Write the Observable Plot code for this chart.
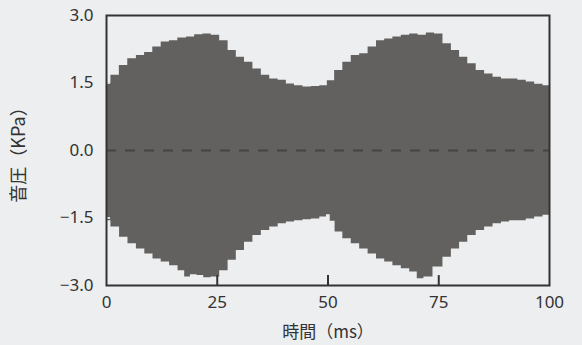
<!DOCTYPE html>
<html>
<head>
<meta charset="utf-8">
<script src="https://cdn.jsdelivr.net/npm/d3@7"></script>
<script src="https://cdn.jsdelivr.net/npm/@observablehq/plot@0.6"></script>
<style>
  html, body { margin: 0; padding: 0; background: #eceeef; }
  #chart { width: 582px; height: 345px; }
</style>
</head>
<body>
<div id="chart"></div>
<script>
// Upper envelope of the sound pressure waveform (ms, KPa)
const upperTime = [0, 2.0, 3.8, 5.8, 7.7, 9.5, 11.4, 13.3, 15.1, 17.1, 19.0, 20.8, 22.7, 24.6, 26.5, 28.4, 30.2, 32.1, 34.0, 35.9, 37.8, 39.7, 41.5, 43.4, 45.3, 47.2, 49.1, 50.6, 52.4, 54.3, 56.2, 58.1, 60.0, 61.9, 63.7, 65.6, 67.5, 69.4, 71.3, 73.1, 75.0, 76.9, 78.8, 80.6, 82.5, 84.4, 86.3, 88.2, 90.1, 91.9, 93.8, 95.7, 97.6, 99.5, 100];
const upperVals = [1.49, 1.67, 1.89, 2.04, 2.11, 2.18, 2.30, 2.41, 2.44, 2.50, 2.52, 2.57, 2.59, 2.56, 2.44, 2.22, 2.07, 1.96, 1.81, 1.67, 1.59, 1.56, 1.48, 1.44, 1.41, 1.42, 1.44, 1.55, 1.78, 1.96, 2.11, 2.15, 2.30, 2.44, 2.48, 2.52, 2.56, 2.59, 2.56, 2.61, 2.59, 2.37, 2.22, 2.07, 1.93, 1.78, 1.70, 1.63, 1.59, 1.59, 1.56, 1.52, 1.47, 1.44, 1.44];
// Lower envelope
const lowerTime = [0, 2.0, 3.9, 5.8, 7.7, 9.6, 11.4, 13.3, 15.2, 17.1, 18.2, 19.7, 21.2, 22.7, 24.6, 26.5, 28.4, 30.2, 32.1, 34.0, 35.9, 37.8, 39.7, 41.5, 43.4, 45.3, 47.2, 49.1, 50.2, 50.8, 52.4, 54.3, 56.2, 58.1, 60.0, 61.9, 63.7, 65.6, 67.5, 69.4, 70.9, 72.4, 75.0, 76.9, 78.8, 80.6, 82.5, 84.4, 86.3, 88.2, 90.1, 91.9, 93.8, 95.7, 97.6, 99.5, 100];
const lowerVals = [-1.56, -1.70, -1.93, -2.07, -2.19, -2.30, -2.41, -2.48, -2.56, -2.67, -2.81, -2.76, -2.78, -2.83, -2.81, -2.67, -2.44, -2.22, -2.04, -1.89, -1.78, -1.70, -1.63, -1.59, -1.56, -1.54, -1.52, -1.48, -1.43, -1.57, -1.81, -1.96, -2.07, -2.19, -2.30, -2.41, -2.48, -2.56, -2.63, -2.70, -2.85, -2.81, -2.59, -2.37, -2.19, -2.04, -1.89, -1.78, -1.70, -1.63, -1.59, -1.56, -1.56, -1.52, -1.48, -1.44, -1.44];

const xTicks = [0, 25, 50, 75, 100];
const yTicks = [-3.0, -1.5, 0.0, 1.5, 3.0];
const xInnerTicks = [25, 50, 75];
const yInnerTicks = [-1.5, 1.5];

const upper = upperTime.map((t, i) => ({t, v: upperVals[i]}));
const lower = lowerTime.map((t, i) => ({t, v: lowerVals[i]}));

const fillColor = "#62615f";
const ink = "#333";
const fmt = d => d.toFixed(1).replace("-", "\u2212");

const chart = Plot.plot({
  width: 582,
  height: 345,
  marginLeft: 106,
  marginRight: 33,
  marginTop: 15,
  marginBottom: 60,
  style: {background: "#eceeef", color: ink, fontFamily: "'Noto Sans', 'Noto Sans CJK JP', sans-serif"},
  x: {domain: [0, 100]},
  y: {domain: [-3, 3]},
  marks: [
    Plot.areaY(upper, {x: "t", y1: 0, y2: "v", fill: fillColor, curve: "step"}),
    Plot.areaY(lower, {x: "t", y1: "v", y2: 0, fill: fillColor, curve: "step"}),
    Plot.ruleY([0], {stroke: "#444", strokeWidth: 2, strokeDasharray: "10,9"}),
    Plot.ruleX(xInnerTicks, {y1: -3, y2: -2.78, stroke: ink, strokeWidth: 2}),
    Plot.ruleY(yInnerTicks, {x1: 0, x2: 0.9, stroke: "#ddd", strokeWidth: 2}),
    Plot.frame({stroke: ink, strokeWidth: 2}),
    Plot.axisX({ticks: xTicks, tickSize: 0, tickPadding: 10, tickFormat: d => String(d), fontSize: 17, label: null, fill: ink, style: {letterSpacing: "2.5px"}}),
    Plot.axisY({ticks: yTicks, tickSize: 0, tickPadding: 13, tickFormat: fmt, fontSize: 17, label: null, fill: ink, style: {letterSpacing: "2px"}}),
    Plot.text(["時間（ms）"], {frameAnchor: "bottom", dy: 52, fontSize: 17, fill: ink, fontFamily: "'Noto Sans CJK JP', sans-serif", lineAnchor: "bottom"}),
    Plot.text(["音圧（KPa）"], {frameAnchor: "left", dx: -87, rotate: -90, textAnchor: "middle", fontSize: 18, fill: ink, fontFamily: "'Noto Sans CJK JP', sans-serif"})
  ]
});
document.getElementById("chart").appendChild(chart);
</script>
</body>
</html>
